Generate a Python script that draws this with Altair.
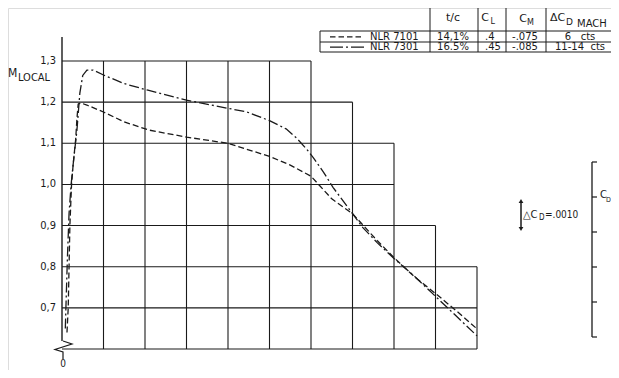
import altair as alt
import pandas as pd

# ---------------- data ----------------
# NLR 7101 (dashed)
x_7101 = [0.012, 0.015, 0.017, 0.019, 0.023, 0.027, 0.033, 0.036, 0.039, 0.045, 0.06,
          0.1, 0.15, 0.21, 0.3, 0.4, 0.5, 0.55, 0.6, 0.62, 0.65, 0.7, 0.76, 0.8, 0.85,
          0.9, 0.95, 1.0]
m_7101 = [0.64, 0.70, 0.80, 0.90, 1.00, 1.05, 1.11, 1.16, 1.195, 1.198, 1.193,
          1.176, 1.152, 1.132, 1.115, 1.100, 1.068, 1.047, 1.020, 0.998, 0.965, 0.929, 0.863, 0.822, 0.775,
          0.735, 0.693, 0.649]
# NLR 7301 (dash-dot)
x_7301 = [0.008, 0.010, 0.013, 0.017, 0.022, 0.027, 0.036, 0.043, 0.05, 0.06, 0.075,
          0.1, 0.15, 0.207, 0.3, 0.4, 0.446, 0.5, 0.54, 0.566, 0.59, 0.605, 0.63, 0.653,
          0.7, 0.725, 0.76, 0.8, 0.85, 0.9, 0.95, 1.0]
m_7301 = [0.65, 0.72, 0.82, 0.93, 1.00, 1.05, 1.132, 1.222, 1.265, 1.278, 1.278,
          1.266, 1.245, 1.229, 1.205, 1.185, 1.176, 1.155, 1.135, 1.112, 1.085, 1.066, 1.03, 0.993,
          0.929, 0.895, 0.858, 0.82, 0.776, 0.728, 0.68, 0.632]

y_ticks = [1.3, 1.2, 1.1, 1.0, 0.9, 0.8, 0.7]
y_tick_labels = ["1,3", "1,2", "1,1", "1,0", "0,9", "0,8", "0,7"]

# stepped grid: right end of each horizontal line, top of each vertical line
h_lines_y = [1.3, 1.2, 1.1, 1.0, 0.9, 0.8, 0.7, 0.6]
h_lines_end = [0.6, 0.7, 0.8, 0.8, 0.9, 1.0, 1.0, 1.0]
v_lines_x = [0.1, 0.2, 0.3, 0.4, 0.5, 0.6, 0.7, 0.8, 0.9, 1.0]
v_lines_top = [1.3, 1.3, 1.3, 1.3, 1.3, 1.3, 1.2, 1.1, 0.9, 0.8]

table_names = ["NLR 7101", "NLR 7301"]
table_tc = ["14,1%", "16.5%"]
table_cl = [".4", ".45"]
table_cm = ["-.075", "-.085"]
table_dcd = ["6\u00a0\u00a0\u00a0cts", "11-14\u00a0\u00a0cts"]

# ---------------- layout ----------------
W, H = 603, 362
X0 = -54 / 415
X1 = X0 + W / 415
UY = 288 / 0.7
YT = 1.3 + 53 / UY
YB = YT - H / UY
FONT = "DejaVu Sans Condensed"
TFONT = "DejaVu Sans"
INK = "#1a1a1a"


def PX(p):
    return X0 + (p - 8) / 415


def PY(p):
    return YT - (p - 8) / UY


xs = alt.Scale(domain=[X0, X1], nice=False, zero=False)
ys = alt.Scale(domain=[YB, YT], nice=False, zero=False)


def X(f):
    return alt.X(f, type="quantitative", scale=xs, axis=None)


def Y(f):
    return alt.Y(f, type="quantitative", scale=ys, axis=None)


def rules(df, width=1.1, color=INK, dash=None):
    kw = dict(strokeWidth=width, color=color)
    if dash:
        kw["strokeDash"] = dash
    return alt.Chart(df).mark_rule(**kw).encode(
        x=X("x"), x2="x2", y=Y("y"), y2="y2")


def label(text, px, py, size=10, align="center", baseline="middle", font=FONT):
    df = pd.DataFrame({"x": [PX(px)], "y": [PY(py)], "t": [text]})
    return alt.Chart(df).mark_text(font=font, fontSize=size, align=align,
                                   baseline=baseline, color=INK).encode(
        x=X("x"), y=Y("y"), text="t:N")


layers = []

# grid
hdf = pd.DataFrame({"x": [0.0] * len(h_lines_y), "x2": h_lines_end,
                    "y": h_lines_y, "y2": h_lines_y})
vdf = pd.DataFrame({"x": v_lines_x, "x2": v_lines_x,
                    "y": [0.6] * len(v_lines_x), "y2": v_lines_top})
layers.append(rules(hdf, 1.1))
layers.append(rules(vdf, 1.1))

# y axis line and break symbol
layers.append(rules(pd.DataFrame({"x": [0.0], "x2": [0.0], "y": [PY(341)], "y2": [PY(37)]}), 1.4))
zz = pd.DataFrame({"x": [PX(63), PX(72), PX(55), PX(63), PX(63)],
                   "y": [PY(341), PY(344), PY(349.5), PY(352), PY(359)],
                   "o": [0, 1, 2, 3, 4]})
layers.append(alt.Chart(zz).mark_line(color=INK, strokeWidth=1.2).encode(
    x=X("x"), y=Y("y"), order="o:Q"))

# y tick labels
ydf = pd.DataFrame({"x": [PX(56)] * len(y_ticks), "y": y_ticks, "t": y_tick_labels})
layers.append(alt.Chart(ydf).mark_text(font=FONT, fontSize=11, align="right",
                                       baseline="middle", color=INK).encode(
    x=X("x"), y=Y("y"), text="t:N"))
layers.append(label("M", 8, 73, 12, "left"))
layers.append(label("LOCAL", 18, 78, 11, "left"))
layers.append(label("0", 63, 364, 10))

# curves
d1 = pd.DataFrame({"x": x_7101, "m": m_7101})
d2 = pd.DataFrame({"x": x_7301, "m": m_7301})
layers.append(alt.Chart(d1).mark_line(color=INK, strokeWidth=1.3, strokeDash=[6, 3]).encode(
    x=X("x"), y=Y("m")))
layers.append(alt.Chart(d2).mark_line(color=INK, strokeWidth=1.3, strokeDash=[10, 3, 2, 3]).encode(
    x=X("x"), y=Y("m")))

# table
tcols = [430, 478, 506, 546]
tv = pd.DataFrame({"x": [PX(p) for p in tcols], "x2": [PX(p) for p in tcols],
                   "y": [PY(7)] * 4, "y2": [PY(52)] * 4})
layers.append(rules(tv, 1.0))
th = pd.DataFrame({"x": [PX(320)] * 3, "x2": [PX(611)] * 3,
                   "y": [PY(31), PY(42), PY(52)], "y2": [PY(31), PY(42), PY(52)]})
layers.append(rules(th, 1.0))
layers.append(rules(pd.DataFrame({"x": [PX(320)], "x2": [PX(320)], "y": [PY(31)], "y2": [PY(52)]}), 1.0))
layers.append(rules(pd.DataFrame({"x": [PX(546)], "x2": [PX(611)], "y": [PY(7)], "y2": [PY(7)]}), 0.6, "#999"))

# header
layers.append(label("t/c", 453, 18, 11, font=TFONT))
layers.append(label("C", 485, 18, 11, font=TFONT))
layers.append(label("L", 490.5, 21.5, 8, "left", font=TFONT))
layers.append(label("C", 523, 19, 11, font=TFONT))
layers.append(label("M", 527, 23, 8, "left", font=TFONT))
layers.append(label("\u0394C", 550, 18, 11, "left", font=TFONT))
layers.append(label("D", 566, 22, 9, "left", font=TFONT))
layers.append(label("MACH", 577, 24, 10, "left", font=TFONT))

# rows
row_y = [36.8, 47.2]
leg = pd.DataFrame({"x": [PX(330)], "x2": [PX(364)], "y": [PY(row_y[0])], "y2": [PY(row_y[0])]})
layers.append(rules(leg, 1.2, INK, [5.5, 3]))
leg2 = pd.DataFrame({"x": [PX(330)], "x2": [PX(364)], "y": [PY(row_y[1])], "y2": [PY(row_y[1])]})
layers.append(rules(leg2, 1.2, INK, [13, 3, 2, 3]))
for i, ry in enumerate(row_y):
    layers.append(label(table_names[i], 370, ry, 10, "left", font=TFONT))
    layers.append(label(table_tc[i], 453, ry, 10, font=TFONT))
    layers.append(label(table_cl[i], 485, ry, 10, "left", font=TFONT))
    layers.append(label(table_cm[i], 525, ry, 10, font=TFONT))
    layers.append(label(table_dcd[i], 580, ry, 10, font=TFONT))

# delta C_D scale bar
layers.append(rules(pd.DataFrame({"x": [PX(521)], "x2": [PX(521)], "y": [PY(201)], "y2": [PY(229)]}), 1.5))
arr = pd.DataFrame({"x": [PX(521), PX(521)], "y": [PY(201), PY(229)], "s": ["triangle-up", "triangle-down"]})
layers.append(alt.Chart(arr).mark_point(filled=True, size=22, color=INK, opacity=1).encode(
    x=X("x"), y=Y("y"), shape=alt.Shape("s:N", scale=None)))
layers.append(label("\u25b3C", 523, 215, 11, "left"))
layers.append(label("D", 539, 218, 8, "left"))
layers.append(label("=.0010", 545, 215, 10, "left"))

# C_D axis
layers.append(rules(pd.DataFrame({"x": [PX(592)], "x2": [PX(592)], "y": [PY(162)], "y2": [PY(337)]}), 1.3))
cd_ticks = [162, 197, 232, 267, 302, 337]
cdt = pd.DataFrame({"x": [PX(592)] * 6, "x2": [PX(597)] * 6,
                    "y": [PY(p) for p in cd_ticks], "y2": [PY(p) for p in cd_ticks]})
layers.append(rules(cdt, 1.2))
layers.append(label("C", 600, 195, 11, "left"))
layers.append(label("D", 606, 199.5, 7, "left"))

chart = alt.layer(*layers).properties(
    width=W, height=H, padding=0, autosize=alt.AutoSizeParams(type="none")
).configure_view(stroke=None).configure(background="white")

chart.save("out.html", embed_options={"renderer": "svg", "actions": False})
